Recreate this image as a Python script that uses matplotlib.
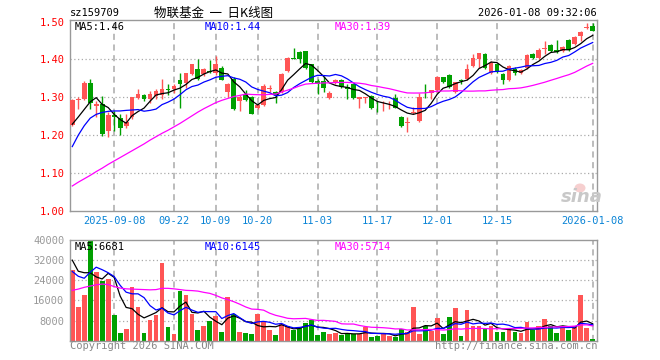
#Sina style daily K-line chart for sz159709 with volume panel
import numpy as np
import pandas as pd
import matplotlib
matplotlib.use("Agg")
import matplotlib.pyplot as plt
from matplotlib.patches import Ellipse

#candles (one per trading day)
opens = [1.227, 1.294, 1.296, 1.339, 1.276, 1.283, 1.212, 1.252, 1.245, 1.225,
         1.247, 1.299, 1.306, 1.295, 1.303, 1.306, 1.322, 1.321, 1.345, 1.339,
         1.362, 1.374, 1.361, 1.370, 1.365, 1.378, 1.315, 1.349, 1.290, 1.310,
         1.300, 1.271, 1.280, 1.322, 1.315, 1.315, 1.369, 1.404, 1.420, 1.422,
         1.387, 1.343, 1.343, 1.299, 1.338, 1.345, 1.327, 1.334, 1.296, 1.297,
         1.303, 1.278, 1.276, 1.279, 1.299, 1.248, 1.233, 1.259, 1.238, 1.307,
         1.312, 1.318, 1.354, 1.360, 1.315, 1.346, 1.347, 1.382, 1.400, 1.415,
         1.365, 1.389, 1.362, 1.345, 1.374, 1.365, 1.378, 1.413, 1.403, 1.428,
         1.438, 1.425, 1.422, 1.452, 1.440, 1.461, 1.482, 1.488]
closes = [1.292, 1.296, 1.339, 1.286, 1.283, 1.203, 1.254, 1.249, 1.218, 1.235,
          1.302, 1.308, 1.295, 1.308, 1.317, 1.321, 1.319, 1.330, 1.334, 1.365,
          1.387, 1.347, 1.374, 1.366, 1.387, 1.345, 1.336, 1.270, 1.300, 1.292,
          1.257, 1.280, 1.330, 1.324, 1.306, 1.362, 1.404, 1.402, 1.400, 1.378,
          1.341, 1.334, 1.324, 1.312, 1.346, 1.326, 1.322, 1.297, 1.300, 1.301,
          1.271, 1.276, 1.278, 1.281, 1.273, 1.225, 1.235, 1.261, 1.302, 1.305,
          1.318, 1.354, 1.341, 1.327, 1.340, 1.344, 1.375, 1.403, 1.418, 1.378,
          1.391, 1.368, 1.345, 1.382, 1.365, 1.371, 1.411, 1.404, 1.426, 1.429,
          1.422, 1.420, 1.432, 1.424, 1.459, 1.473, 1.485, 1.476]
highs = [1.295, 1.301, 1.343, 1.347, 1.290, 1.303, 1.260, 1.265, 1.255, 1.256,
         1.302, 1.323, 1.310, 1.317, 1.321, 1.347, 1.334, 1.334, 1.365, 1.365,
         1.387, 1.400, 1.378, 1.398, 1.409, 1.382, 1.337, 1.353, 1.306, 1.318,
         1.303, 1.283, 1.334, 1.333, 1.317, 1.365, 1.406, 1.429, 1.422, 1.422,
         1.389, 1.347, 1.356, 1.317, 1.348, 1.348, 1.336, 1.336, 1.300, 1.302,
         1.307, 1.289, 1.291, 1.290, 1.309, 1.251, 1.248, 1.275, 1.312, 1.336,
         1.319, 1.356, 1.354, 1.362, 1.341, 1.347, 1.387, 1.415, 1.418, 1.418,
         1.396, 1.391, 1.365, 1.385, 1.380, 1.374, 1.413, 1.418, 1.429, 1.448,
         1.440, 1.450, 1.435, 1.455, 1.461, 1.475, 1.496, 1.496]
lows = [1.225, 1.268, 1.294, 1.268, 1.247, 1.198, 1.196, 1.210, 1.200, 1.220,
        1.243, 1.296, 1.290, 1.286, 1.295, 1.295, 1.306, 1.312, 1.273, 1.325,
        1.358, 1.345, 1.357, 1.364, 1.360, 1.345, 1.300, 1.267, 1.265, 1.290,
        1.255, 1.268, 1.278, 1.315, 1.285, 1.312, 1.367, 1.400, 1.390, 1.376,
        1.339, 1.308, 1.315, 1.295, 1.335, 1.324, 1.295, 1.295, 1.273, 1.286,
        1.268, 1.262, 1.263, 1.268, 1.271, 1.221, 1.209, 1.255, 1.236, 1.299,
        1.295, 1.315, 1.339, 1.325, 1.312, 1.334, 1.345, 1.380, 1.377, 1.376,
        1.362, 1.365, 1.336, 1.343, 1.360, 1.362, 1.376, 1.402, 1.400, 1.415,
        1.420, 1.418, 1.420, 1.422, 1.438, 1.448, 1.479, 1.474]
volumes = [27900, 13300, 18100, 40000, 27400, 23800, 24500, 10100, 3000, 4700,
           21300, 13300, 3000, 8200, 10100, 30900, 5400, 2600, 19700, 18100,
           10500, 4200, 6000, 7900, 10000, 3650, 17200, 10500, 3400, 3000,
           2700, 10500, 7900, 4200, 2300, 6800, 6000, 4300, 5000, 7000,
           8400, 2300, 3650, 2600, 3250, 2300, 2700, 2700, 2700, 5600,
           1400, 2050, 2700, 2050, 1400, 4700, 3400, 13300, 2600, 6000,
           4050, 8950, 2600, 9350, 12900, 2050, 12150, 6000, 6000, 4700,
           5650, 3400, 3650, 4700, 3650, 3250, 7350, 4200, 5900, 8550,
           6000, 3000, 6000, 4300, 5650, 18000, 5000, 730]

#moving average values before the window is full (history is off the chart)
ma5_head = [1.229, 1.248, 1.268, 1.288]
ma10_head = [1.170, 1.200, 1.225, 1.245, 1.255, 1.260, 1.263, 1.264, 1.264]
ma30_head = [1.066, 1.076, 1.085, 1.094, 1.104, 1.113, 1.123, 1.132, 1.141, 1.150,
             1.159, 1.168, 1.177, 1.187, 1.196, 1.205, 1.213, 1.222, 1.231, 1.241,
             1.251, 1.261, 1.270, 1.278, 1.286, 1.292, 1.297, 1.302, 1.305]
vma5_head = [32000, 27600, 27000, 27000]
vma10_head = [27500, 25600, 24800, 27200, 29200, 28200, 27000, 25500, 22000]
vma30_head = [20000, 20500, 21200, 21700, 22200, 22500, 22300, 21500, 20900, 20600,
              20500, 20400, 20300, 20200, 20300, 20800, 20800, 20600, 20300, 20000,
              19900, 19700, 19200, 18800, 18000, 17000, 16300, 15500, 14500]

tick_dates = ["2025-09-08", "2025-09-22", "2025-10-09", "2025-10-20", "2025-11-03",
              "2025-11-17", "2025-12-01", "2025-12-15", "2026-01-08"]
tick_labels = ["2025-09-08", "09-22", "10-09", "10-20", "11-03",
               "11-17", "12-01", "12-15", "2026-01-08"]
holidays = ["2025-10-01", "2025-10-02", "2025-10-03", "2025-10-06", "2025-10-07",
            "2025-10-08", "2026-01-01", "2026-01-02"]

RED = "#ff5555"
GREEN = "#00a000"
GRID = "#aaaaaa"
MONO = "DejaVu Sans Mono"

days = pd.bdate_range("2025-08-28", "2026-01-08")
days = days[~days.isin(pd.to_datetime(holidays))]
n = len(days)
assert n == len(opens) == len(closes) == len(highs) == len(lows) == len(volumes)
x = np.arange(n)
tick_idx = [days.get_loc(pd.Timestamp(d)) for d in tick_dates]


def moving(values, window, head):
    ma = pd.Series(values, dtype=float).rolling(window).mean().to_numpy()
    ma[:len(head)] = head
    return ma


o = np.array(opens)
c = np.array(closes)
up = c >= o
colors = np.where(up, RED, GREEN)

fig = plt.figure(figsize=(6.6, 3.6), dpi=100)
W, H = 660, 360
ax = fig.add_axes([70 / W, 1 - 211 / H, 527 / W, 191 / H])
axv = fig.add_axes([70 / W, 1 - 340.7 / H, 527 / W, 100.7 / H])

for a in (ax, axv):
    a.set_xlim(-0.38, n - 0.28)
    for s in a.spines.values():
        s.set_color("#999999")
        s.set_linewidth(1)
    for t in tick_idx:
        a.axvline(t, color=GRID, lw=1.1, ls=(0, (4, 3)), zorder=0)
    a.tick_params(length=0)

#price panel
ax.set_ylim(1.0, 1.504)
for yv in [1.1, 1.2, 1.3, 1.4]:
    ax.axhline(yv, color=GRID, lw=0.9, ls=(0, (1, 2)), zorder=0)
ax.vlines(x, lows, highs, colors=colors, lw=1, zorder=2)
body = np.maximum(np.abs(c - o), 0.0018)
ax.bar(x, body, bottom=np.minimum(o, c), width=0.8, color=colors, zorder=3)

ax.plot(x, moving(closes, 5, ma5_head), color="black", lw=0.9, zorder=4)
ax.plot(x, moving(closes, 10, ma10_head), color="#0000ff", lw=0.9, zorder=4)
ax.plot(x, moving(closes, 30, ma30_head), color="#ff00ff", lw=0.9, zorder=4)

ax.set_yticks([1.0, 1.1, 1.2, 1.3, 1.4, 1.5])
ax.set_yticklabels(["1.00", "1.10", "1.20", "1.30", "1.40", "1.50"],
                   color="red", fontsize=7.5, family=MONO)
ax.set_xticks(tick_idx)
ax.set_xticklabels(tick_labels, color="#0a84d6", fontsize=7.5, family=MONO)
ax.tick_params(axis="y", pad=4)
ax.tick_params(axis="x", pad=3.5)

#volume panel
axv.set_ylim(0, 40000)
for yv in [8000, 16000, 24000, 32000]:
    axv.axhline(yv, color=GRID, lw=0.9, ls=(0, (1, 2)), zorder=0)
axv.bar(x, volumes, width=0.8, color=colors, zorder=2)
axv.plot(x, moving(volumes, 5, vma5_head), color="black", lw=0.9, zorder=4)
axv.plot(x, moving(volumes, 10, vma10_head), color="#0000ff", lw=0.9, zorder=4)
axv.plot(x, moving(volumes, 30, vma30_head), color="#ff00ff", lw=0.9, zorder=4)
axv.set_yticks([8000, 16000, 24000, 32000, 40000])
axv.set_yticklabels(["8000", "16000", "24000", "32000", "40000"],
                    color="#999999", fontsize=7.5, family=MONO)
axv.tick_params(axis="y", pad=4)
axv.set_xticks([])


def px(xp, yp):
    return xp / W, 1 - yp / H


#header texts
fig.text(*px(70, 13), "sz159709", fontsize=7.5, family=MONO, va="center")
fig.text(*px(214, 13), "物联基金  一  日K线图", fontsize=9,
         family=["Noto Sans CJK SC", "DejaVu Sans"], va="center", ha="center")
fig.text(*px(597, 13), "2026-01-08 09:32:06", fontsize=7.5, family=MONO,
         va="center", ha="right")

#legends
fig.text(*px(75, 27), "MA5:1.46", fontsize=7.5, family=MONO, va="center")
fig.text(*px(205, 27), "MA10:1.44", fontsize=7.5, family=MONO, va="center", color="#0000ff")
fig.text(*px(335, 27), "MA30:1.39", fontsize=7.5, family=MONO, va="center", color="#ff00ff")
fig.text(*px(75, 247), "MA5:6681", fontsize=7.5, family=MONO, va="center")
fig.text(*px(205, 247), "MA10:6145", fontsize=7.5, family=MONO, va="center", color="#0000ff")
fig.text(*px(335, 247), "MA30:5714", fontsize=7.5, family=MONO, va="center", color="#ff00ff")

#footer
fig.text(*px(70, 346), "Copyright 2026 SINA.COM", fontsize=7.5, family=MONO,
         va="center", color="#888888")
fig.text(*px(597, 346), "http://finance.sina.com.cn", fontsize=7.5, family=MONO,
         va="center", ha="right", color="#888888")

#sina watermark
fig.add_artist(Ellipse(px(580, 188), 11 / W, 9 / H, facecolor="#f4c4c4",
                       edgecolor="none", alpha=0.8))
fig.text(*px(582, 197), "sina", fontsize=13, fontweight="bold", style="italic",
         color="#c8c8c8", ha="center", va="center")

fig.savefig("out.png", dpi=100)
